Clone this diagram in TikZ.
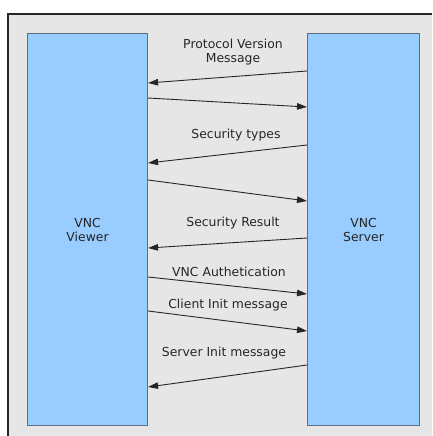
\documentclass[tikz,border=0pt]{standalone}
\usepackage{fontspec}
\setmainfont{DejaVu Sans}
\usepackage{xcolor}
\usetikzlibrary{arrows.meta,calc}

\definecolor{panelgray}{HTML}{E6E6E6}
\definecolor{hostblue}{HTML}{99CCFF}
\definecolor{hostedge}{HTML}{5F6F80}
\definecolor{msgink}{HTML}{262626}

\begin{document}
\begin{tikzpicture}[
        x=1pt, y=-1pt,
        font=\fontsize{12.4}{14}\selectfont,
        host/.style={draw=hostedge, fill=hostblue, line width=1.1pt, anchor=north west,
                     inner sep=0pt, align=center, text=msgink},
        msg/.style={draw=msgink, line width=0.9pt, -{Triangle[length=10pt,width=6.5pt]}},
        mlabel/.style={text=msgink, align=center, inner sep=0pt}
    ]
    \useasboundingbox (0,0) rectangle (432,436);
    % ---- panel ----
    \fill[panelgray] (8,14) rectangle (432,436);
    \draw[line width=1.1pt, black!85] (8,436) -- (8,14) -- (432,14);

    % ---- hosts ----
    \node[host, minimum width=120pt, minimum height=392pt] (viewer) at (27,33) {VNC\\Viewer};
    \node[host, minimum width=112pt, minimum height=392pt] (server) at (307,33) {VNC\\Server};

    % ---- messages ----
    \node[mlabel] (lblproto) at (233,52) {Protocol Version\\Message};
    \draw[msg] ([yshift=-38pt]server.north west) -- ([yshift=-50pt]viewer.north east);
    \draw[msg] ([yshift=-65pt]viewer.north east) -- ([yshift=-74pt]server.north west);

    \node[mlabel] (lblsectypes) at (236,135) {Security types};
    \draw[msg] ([yshift=-112pt]server.north west) -- ([yshift=-130pt]viewer.north east);
    \draw[msg] ([yshift=-147pt]viewer.north east) -- ([yshift=-168pt]server.north west);

    \node[mlabel] (lblsecres) at (233,223) {Security Result};
    \draw[msg] ([yshift=-205pt]server.north west) -- ([yshift=-215pt]viewer.north east);

    \node[mlabel] (lblauth) at (229,272) {VNC Authetication};
    \draw[msg] ([yshift=-244pt]viewer.north east) -- ([yshift=-261pt]server.north west);

    \node[mlabel] (lblcinit) at (228,305) {Client Init message};
    \draw[msg] ([yshift=-278pt]viewer.north east) -- ([yshift=-298pt]server.north west);

    \node[mlabel] (lblsinit) at (224,353) {Server Init message};
    \draw[msg] ([yshift=-332pt]server.north west) -- ([yshift=-354pt]viewer.north east);
\end{tikzpicture}
\end{document}
